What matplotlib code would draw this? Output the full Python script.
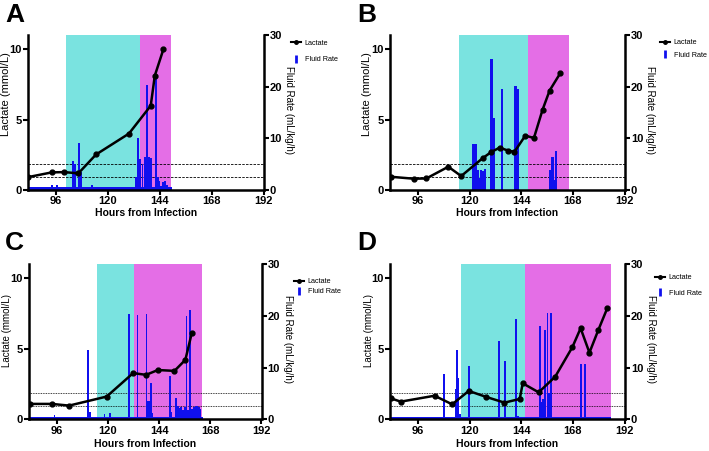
import matplotlib
matplotlib.use("Agg")
import matplotlib.pyplot as plt
from matplotlib.lines import Line2D

plt.rcParams['font.family'] = ['Liberation Sans', 'DejaVu Sans']

# ---- panel A ----
a_lac_h = [83.2, 94.0, 99.8, 106.3, 114.5, 129.7, 139.8, 141.7, 145.7]
a_lac = [0.92, 1.25, 1.27, 1.18, 2.52, 4.0, 5.98, 8.12, 10.0]
a_fl_h = [94.0, 96.6, 104.0, 104.9, 106.8, 107.6, 112.5, 133.0, 134.0, 135.0, 136.0,
          137.0, 138.2, 139.0, 140.0, 141.0, 142.2, 143.0, 143.8, 144.6, 145.5, 146.5, 147.4]
a_fl = [1.0, 0.9, 5.6, 5.0, 9.1, 3.4, 1.0, 2.5, 10.1, 6.0, 5.0,
        6.4, 20.4, 6.4, 6.2, 0.6, 21.4, 2.6, 1.8, 0.7, 1.5, 1.8, 1.0]
a_base = [(83.0, 149.5, 0.5)]
a_cyan = (100.6, 134.8)
a_pink = (134.8, 149.4)

# ---- panel B ----
b_lac_h = [83.3, 94.1, 99.9, 110.1, 116.1, 126.0, 130.1, 133.9, 137.9, 140.8,
           145.9, 149.9, 153.9, 157.2, 162.1]
b_lac = [0.94, 0.80, 0.82, 1.65, 0.99, 2.25, 2.7, 3.0, 2.8, 2.7,
         3.86, 3.69, 5.69, 7.06, 8.28]
b_fl_h = [121.5, 122.7, 123.8, 124.6, 125.3, 126.1, 127.1, 130.1, 131.2, 135.2,
          141.3, 142.5, 157.5, 158.5, 159.3, 160.2]
b_fl = [9.0, 8.9, 3.9, 2.4, 3.9, 3.6, 4.1, 25.3, 13.9, 19.5,
        20.2, 19.5, 3.9, 6.3, 2.0, 7.6]
b_base = []
b_cyan = (115.2, 147.1)
b_pink = (147.1, 166.0)

# ---- panel C ----
c_lac_h = [83.4, 93.7, 101.8, 119.4, 131.8, 137.9, 143.4, 151.2, 156.3, 159.3]
c_lac = [1.09, 1.09, 0.97, 1.61, 3.27, 3.15, 3.49, 3.43, 4.21, 6.1]
c_fl_h = [95.0, 110.8, 111.6, 118.4, 121.0, 129.8, 133.9, 138.1, 138.9, 139.5, 140.1,
          140.8, 149.0, 149.8, 152.0, 152.8, 153.6, 154.4, 155.2, 156.0, 156.8,
          157.6, 158.6, 159.4, 160.2, 161.0, 161.8, 162.6, 163.4]
c_fl = [0.9, 13.4, 1.5, 1.0, 1.3, 20.3, 20.2, 20.3, 3.5, 3.6, 7.1,
        1.2, 8.4, 1.4, 4.1, 2.6, 2.2, 2.4, 1.8, 2.3, 19.9,
        1.8, 21.1, 2.0, 2.3, 2.5, 2.6, 2.4, 2.0]
c_base = [(83.0, 164.5, 0.5)]
c_cyan = (115.0, 132.1)
c_pink = (132.1, 164.1)

# ---- panel D ----
d_lac_h = [83.3, 88.0, 103.7, 111.9, 119.6, 127.8, 136.2, 143.3, 144.7, 152.1,
           159.8, 167.8, 171.6, 175.7, 179.9, 184.0]
d_lac = [1.49, 1.25, 1.67, 1.06, 2.01, 1.58, 1.18, 1.44, 2.55, 1.91,
         3.02, 5.12, 6.45, 4.72, 6.35, 7.87]
d_fl_h = [108.1, 113.5, 114.1, 114.8, 115.6, 119.8, 133.8, 136.6, 141.6, 142.4,
          152.7, 153.5, 154.2, 155.2, 156.2, 157.0, 158.0, 171.8, 173.7]
d_fl = [8.7, 5.8, 13.4, 8.0, 1.0, 10.2, 15.2, 11.2, 19.3, 0.7,
        18.1, 3.3, 3.9, 17.2, 20.5, 5.0, 20.6, 10.6, 10.6]
d_base = [(83.0, 185.5, 0.4)]
d_cyan = (115.8, 145.9)
d_pink = (145.9, 185.7)

x_ticks = [96, 120, 144, 168, 192]
lac_ticks = [0, 5, 10]
fl_ticks = [0, 10, 20, 30]
ref_lines = [5, 2.5]   # on fluid-rate scale

W, H = 709, 451
fig = plt.figure(figsize=(W / 100, H / 100), dpi=100)

# pixel boxes: left, top, right, bottom
panels = [
    dict(name='A', box=(28, 35, 263.5, 190), lh=a_lac_h, lv=a_lac, fh=a_fl_h, fv=a_fl,
         base=a_base, cyan=a_cyan, pink=a_pink, bw=0.9, dash=(3, 1.5), xl=213.3,
         leg=(291, 39.5), lsp=1.35, lab=(-0.095, 0.62, 8), fx=1.108),
    dict(name='B', box=(390, 35, 624.5, 190), lh=b_lac_h, lv=b_lac, fh=b_fl_h, fv=b_fl,
         base=b_base, cyan=b_cyan, pink=b_pink, bw=1.1, dash=(3, 1.5), xl=213.3,
         leg=(660, 39), lsp=0.75, lab=(-0.097, 0.62, 8), fx=1.108),
    dict(name='C', box=(29, 264, 261.5, 419.3), lh=c_lac_h, lv=c_lac, fh=c_fl_h, fv=c_fl,
         base=c_base, cyan=c_cyan, pink=c_pink, bw=0.8, dash=(1, 1), xl=444,
         leg=(294, 278), lsp=0.45, lab=(-0.096, 0.57, 7), fx=1.115),
    dict(name='D', box=(390, 264, 624.5, 419.3), lh=d_lac_h, lv=d_lac, fh=d_fl_h, fv=d_fl,
         base=d_base, cyan=d_cyan, pink=d_pink, bw=0.8, dash=(1, 1), xl=444,
         leg=(655, 274), lsp=1.2, lab=(-0.09, 0.57, 7), fx=1.112),
]

for p in panels:
    l, t, r, b = p['box']
    ax = fig.add_axes([l / W, 1 - b / H, (r - l) / W, (b - t) / H])
    ax2 = ax.twinx()

    # fluid axis (right side) holds shading and bars
    ax.axvspan(*p['cyan'], color='#7ae3e0', lw=0, zorder=0)
    ax.axvspan(*p['pink'], color='#e46ee6', lw=0, zorder=0)
    for y in ref_lines:
        ax.axhline(y, color='black', lw=0.6, dashes=p['dash'], zorder=1)
    for s, e, v in p['base']:
        ax.bar(s, v, width=e - s, align='edge', color='#1010ee', lw=0, zorder=2)
    ax.bar(p['fh'], p['fv'], width=p['bw'], color='#1010ee', lw=0, zorder=2)
    ax.set_ylim(0, 30)
    ax.set_yticks(fl_ticks)
    ax.yaxis.tick_right()
    ax.set_xlim(83, 192)
    ax.set_xticks(x_ticks)

    # lactate on the left axis, drawn on top
    ax2.plot(p['lh'], p['lv'], color='black', lw=1.8, marker='o', ms=3.5)
    ax2.set_ylim(0, 11)
    ax2.set_yticks(lac_ticks)
    ax2.yaxis.tick_left()

    for a in (ax, ax2):
        a.spines['top'].set_visible(False)
        for s in a.spines.values():
            s.set_linewidth(1.8)
        a.tick_params(length=3.5, width=1.5, labelsize=8, pad=1)
        for lbl in a.get_xticklabels() + a.get_yticklabels():
            lbl.set_fontweight('bold')
    ax.spines['left'].set_visible(False)
    ax2.spines['right'].set_visible(False)
    ax2.spines['bottom'].set_visible(False)

    lx, ly, lfs = p['lab']
    ax.text(lx, ly, 'Lactate (mmol/L)', rotation=90, transform=ax.transAxes,
            ha='center', va='center', fontsize=lfs)
    ax.text(p['fx'], 0.516, 'Fluid Rate (mL/kg/h)', rotation=270, transform=ax.transAxes,
            ha='center', va='center', fontsize=7)
    ax.text(0.5, (b - p['xl']) / (b - t), 'Hours from Infection', transform=ax.transAxes,
            ha='center', va='center', fontsize=7.5, fontweight='bold')

    handles = [Line2D([], [], color='black', lw=1.5, marker='o', ms=2.5),
               Line2D([], [], color='#1010ee', lw=0, marker='|', ms=6, mew=2)]
    gx, gy = p['leg']
    ax2.legend(handles, ['Lactate', 'Fluid Rate'], loc='upper left', frameon=False,
               bbox_to_anchor=(gx / W, 1 - gy / H), bbox_transform=fig.transFigure,
               fontsize=5.2, borderpad=0, borderaxespad=0, handlelength=1.4,
               handletextpad=0.5, labelspacing=p['lsp'])

    fig.text((5 if p['name'] in 'AC' else 357) / W, 1 - (3 if p['name'] in 'AB' else 231) / H,
             p['name'], fontsize=19, fontweight='bold', ha='left', va='top')

fig.savefig('out.png', dpi=100)
